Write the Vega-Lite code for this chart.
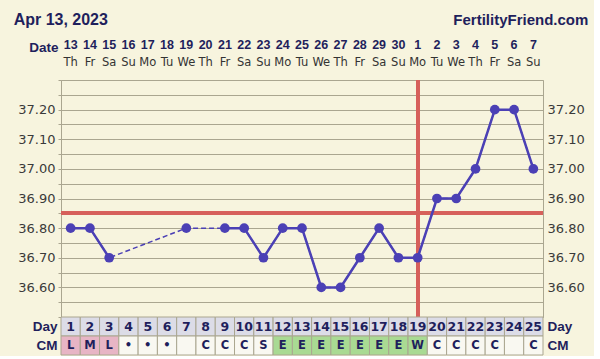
{
  "$schema": "https://vega.github.io/schema/vega-lite/v6.json",
  "background": "#f7f4de",
  "padding": {"left": 13, "top": 8, "right": 5, "bottom": 0},
  "bounds": "flush",
  "spacing": 0,
  "config": {"view": {"stroke": null}},
  "data": {
    "values": [
      {"day": 1, "date": 13, "dow": "Th", "temp": 36.8, "cm": "L"},
      {"day": 2, "date": 14, "dow": "Fr", "temp": 36.8, "cm": "M"},
      {"day": 3, "date": 15, "dow": "Sa", "temp": 36.7, "cm": "L"},
      {"day": 4, "date": 16, "dow": "Su", "temp": null, "cm": "•"},
      {"day": 5, "date": 17, "dow": "Mo", "temp": null, "cm": "•"},
      {"day": 6, "date": 18, "dow": "Tu", "temp": null, "cm": "•"},
      {"day": 7, "date": 19, "dow": "We", "temp": 36.8, "cm": ""},
      {"day": 8, "date": 20, "dow": "Th", "temp": null, "cm": "C"},
      {"day": 9, "date": 21, "dow": "Fr", "temp": 36.8, "cm": "C"},
      {"day": 10, "date": 22, "dow": "Sa", "temp": 36.8, "cm": "C"},
      {"day": 11, "date": 23, "dow": "Su", "temp": 36.7, "cm": "S"},
      {"day": 12, "date": 24, "dow": "Mo", "temp": 36.8, "cm": "E"},
      {"day": 13, "date": 25, "dow": "Tu", "temp": 36.8, "cm": "E"},
      {"day": 14, "date": 26, "dow": "We", "temp": 36.6, "cm": "E"},
      {"day": 15, "date": 27, "dow": "Th", "temp": 36.6, "cm": "E"},
      {"day": 16, "date": 28, "dow": "Fr", "temp": 36.7, "cm": "E"},
      {"day": 17, "date": 29, "dow": "Sa", "temp": 36.8, "cm": "E"},
      {"day": 18, "date": 30, "dow": "Su", "temp": 36.7, "cm": "E"},
      {"day": 19, "date": 1, "dow": "Mo", "temp": 36.7, "cm": "W"},
      {"day": 20, "date": 2, "dow": "Tu", "temp": 36.9, "cm": "C"},
      {"day": 21, "date": 3, "dow": "We", "temp": 36.9, "cm": "C"},
      {"day": 22, "date": 4, "dow": "Th", "temp": 37.0, "cm": "C"},
      {"day": 23, "date": 5, "dow": "Fr", "temp": 37.2, "cm": "C"},
      {"day": 24, "date": 6, "dow": "Sa", "temp": 37.2, "cm": ""},
      {"day": 25, "date": 7, "dow": "Su", "temp": 37.0, "cm": "C"}
    ]
  },
  "vconcat": [
    {
      "width": 482,
      "height": 72,
      "encoding": {
        "x": {"field": "day", "type": "ordinal", "scale": {"type": "band", "paddingInner": 0, "paddingOuter": 0}, "axis": null}
      },
      "layer": [
        {
          "mark": {"type": "text", "font": "Liberation Sans", "fontSize": 12.5, "fontWeight": "bold", "color": "#1f1f5c", "dy": 1},
          "encoding": {
            "y": {"datum": "date", "type": "ordinal", "scale": {"type": "band", "domain": ["title", "date", "dow"], "paddingInner": 0, "paddingOuter": 0},
              "axis": {"orient": "left", "labelExpr": "datum.label == 'date' ? 'Date' : ''", "labelFont": "Liberation Sans", "labelFontSize": 13.5, "labelFontWeight": "bold", "labelColor": "#1f1f5c", "labelPadding": 3, "labelOffset": 4, "labelOverlap": false, "ticks": false, "domain": false, "grid": false, "title": null}},
            "text": {"field": "date"}
          }
        },
        {
          "mark": {"type": "text", "font": "DejaVu Sans", "fontSize": 11.5, "color": "#333333", "dy": -5},
          "encoding": {
            "y": {"datum": "dow", "type": "ordinal", "axis": null},
            "text": {"field": "dow"}
          }
        },
        {
          "data": {"values": [{"label": "Apr 13, 2023"}]},
          "mark": {"type": "text", "align": "left", "dx": -57, "font": "Liberation Sans", "fontSize": 16, "fontWeight": "bold", "color": "#1f1f5c"},
          "encoding": {
            "x": {"datum": 1, "type": "ordinal"},
            "y": {"datum": "title", "type": "ordinal", "axis": null},
            "text": {"field": "label"}
          }
        },
        {
          "data": {"values": [{"label": "FertilityFriend.com"}]},
          "mark": {"type": "text", "align": "right", "dx": 55, "font": "Liberation Sans", "fontSize": 15, "fontWeight": "bold", "color": "#1f1f5c"},
          "encoding": {
            "x": {"datum": 25, "type": "ordinal"},
            "y": {"datum": "title", "type": "ordinal", "axis": null},
            "text": {"field": "label"}
          }
        }
      ],
      "resolve": {"axis": {"y": "independent"}}
    },
    {
      "width": 482,
      "height": 237,
      "view": {"stroke": "#aaa690", "strokeWidth": 1},
      "layer": [
        {
          "mark": {"type": "rule", "color": "#d6605b", "strokeWidth": 3},
          "encoding": {"y": {"datum": 36.85, "type": "quantitative", "axis": null}}
        },
        {
          "mark": {"type": "rule", "color": "#d6605b", "strokeWidth": 3},
          "encoding": {"x": {"datum": 19, "type": "quantitative", "axis": null}}
        },
        {
          "transform": [{"filter": "datum.temp != null"}],
          "mark": {"type": "line", "color": "#4b40b5", "strokeWidth": 1.5, "strokeDash": [5, 3]},
          "encoding": {
            "x": {"field": "day", "type": "quantitative", "scale": {"domain": [0.5, 25.5], "nice": false, "zero": false},
              "axis": {"orient": "top", "values": [0.5, 1.5, 2.5, 3.5, 4.5, 5.5, 6.5, 7.5, 8.5, 9.5, 10.5, 11.5, 12.5, 13.5, 14.5, 15.5, 16.5, 17.5, 18.5, 19.5, 20.5, 21.5, 22.5, 23.5, 24.5, 25.5], "labels": false, "ticks": true, "tickSize": 3, "tickColor": "#aaa690", "grid": true, "gridColor": "#aaa690", "gridOpacity": 1, "domain": false, "title": null}},
            "y": {"field": "temp", "type": "quantitative", "scale": {"domain": [36.5, 37.3], "nice": false, "zero": false},
              "axis": {"orient": "left", "values": [36.5, 36.55, 36.6, 36.65, 36.7, 36.75, 36.8, 36.85, 36.9, 36.95, 37.0, 37.05, 37.1, 37.15, 37.2, 37.25, 37.3], "labelExpr": "indexof(['36.60','36.70','36.80','36.90','37.00','37.10','37.20'], format(datum.value, '.2f')) >= 0 ? format(datum.value, '.2f') : ''", "labelOverlap": false, "grid": true, "gridColor": "#aaa690", "gridOpacity": 1, "tickColor": "#aaa690", "tickSize": 3, "labelPadding": 3, "domain": false, "title": null, "labelFont": "DejaVu Sans", "labelFontSize": 13, "labelColor": "#3a3a3a"}}
          }
        },
        {
          "mark": {"type": "line", "color": "#4b40b5", "strokeWidth": 2.5, "invalid": "break-paths-filter-domains"},
          "encoding": {
            "x": {"field": "day", "type": "quantitative", "axis": null},
            "y": {"field": "temp", "type": "quantitative", "axis": null}
          }
        },
        {
          "transform": [{"filter": "datum.temp != null"}],
          "mark": {"type": "point", "filled": true, "opacity": 1, "size": 95, "color": "#4b40b5"},
          "encoding": {
            "x": {"field": "day", "type": "quantitative", "axis": null},
            "y": {"field": "temp", "type": "quantitative",
              "axis": {"orient": "right", "values": [36.6, 36.7, 36.8, 36.9, 37.0, 37.1, 37.2], "format": ".2f", "labelOverlap": false, "grid": false, "ticks": false, "labelPadding": 4, "domain": false, "title": null, "labelFont": "DejaVu Sans", "labelFontSize": 13, "labelColor": "#3a3a3a"}}
          }
        }
      ],
      "resolve": {"axis": {"y": "independent"}}
    },
    {
      "width": 482,
      "height": 38,
      "encoding": {
        "x": {"field": "day", "type": "ordinal", "scale": {"type": "band", "paddingInner": 0, "paddingOuter": 0}, "axis": null}
      },
      "layer": [
        {
          "mark": {"type": "rect", "fill": "#dcdce7", "stroke": "#aaa690", "strokeWidth": 1},
          "encoding": {
            "y": {"datum": "Day", "type": "ordinal", "scale": {"type": "band", "domain": ["Day", "CM"], "paddingInner": 0, "paddingOuter": 0},
              "axis": {"orient": "left", "labelFont": "Liberation Sans", "labelFontSize": 13.5, "labelFontWeight": "bold", "labelColor": "#1f1f5c", "labelPadding": 4, "ticks": false, "domain": false, "grid": false, "title": null}}
          }
        },
        {
          "mark": {"type": "rect", "stroke": "#aaa690", "strokeWidth": 1},
          "encoding": {
            "y": {"datum": "CM", "type": "ordinal", "axis": null},
            "fill": {"field": "cm", "type": "nominal", "scale": {"domain": ["L", "M", "E", "W", "C", "S", "•", ""], "range": ["#e7b5c5", "#e7b5c5", "#a9da93", "#a9da93", "#f9f8f1", "#f9f8f1", "#f9f8f1", "#f9f8f1"]}, "legend": null}
          }
        },
        {
          "mark": {"type": "text", "font": "DejaVu Sans", "fontSize": 12.5, "fontWeight": "bold", "color": "#1f1f5c"},
          "encoding": {
            "y": {"datum": "Day", "type": "ordinal", "axis": null},
            "text": {"field": "day"}
          }
        },
        {
          "mark": {"type": "text", "font": "DejaVu Sans", "fontSize": 11.5, "fontWeight": "bold", "color": "#1f1f5c"},
          "encoding": {
            "y": {"datum": "CM", "type": "ordinal",
              "axis": {"orient": "right", "labelFont": "Liberation Sans", "labelFontSize": 13.5, "labelFontWeight": "bold", "labelColor": "#1f1f5c", "labelPadding": 4, "ticks": false, "domain": false, "grid": false, "title": null}},
            "text": {"field": "cm"}
          }
        }
      ],
      "resolve": {"axis": {"y": "independent"}}
    }
  ]
}
